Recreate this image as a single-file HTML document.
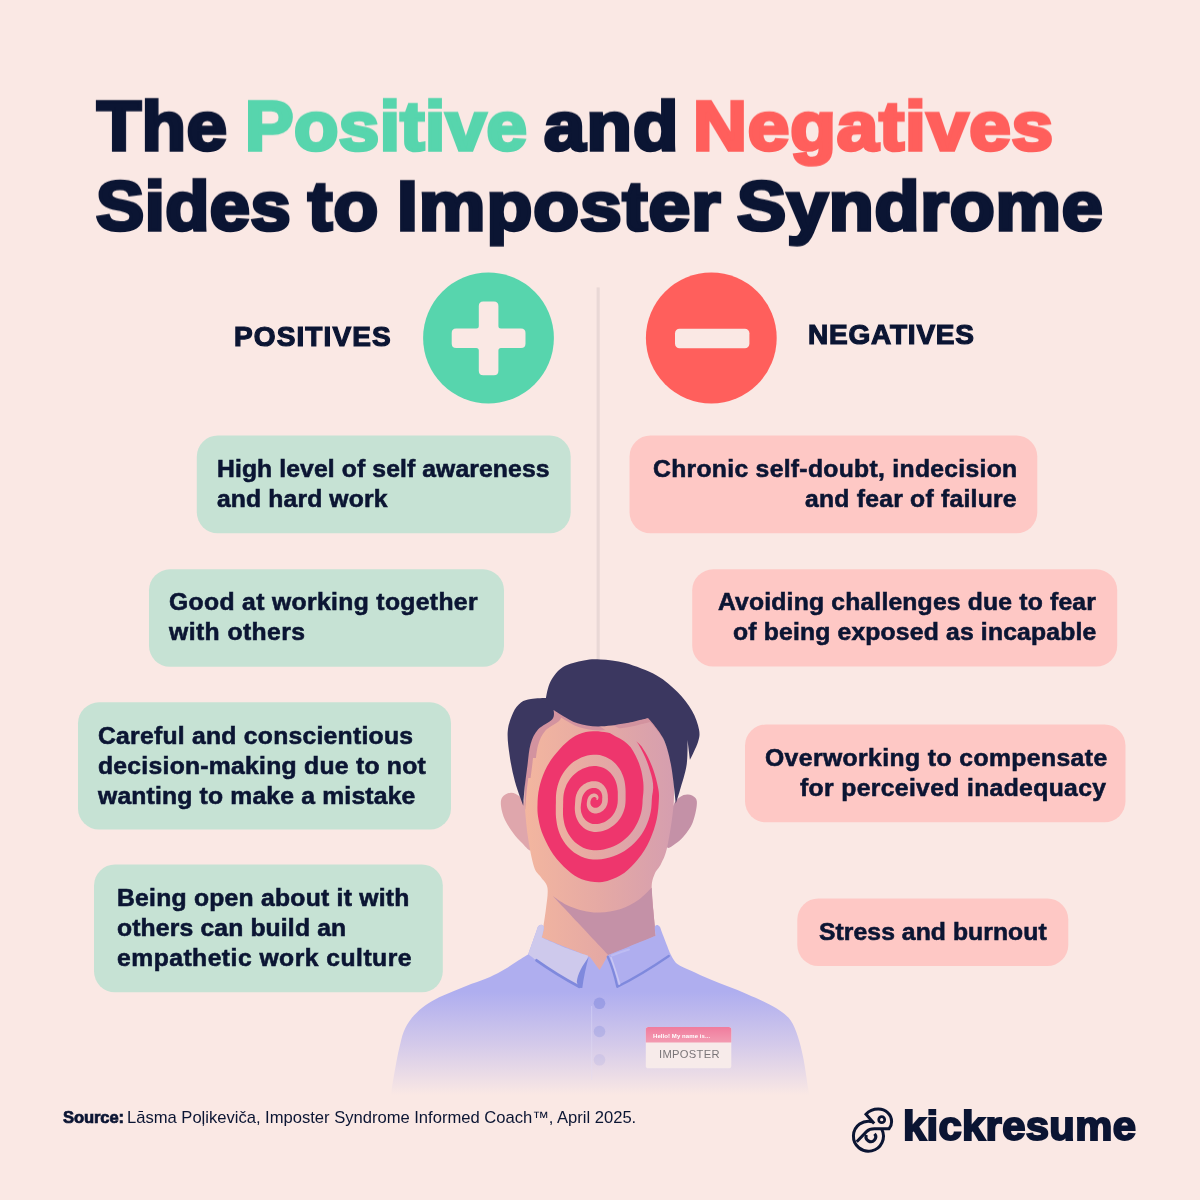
<!DOCTYPE html>
<html><head><meta charset="utf-8">
<style>
*{margin:0;padding:0;box-sizing:border-box}
html,body{width:1200px;height:1200px;overflow:hidden}
body{background:#FAE8E4;font-family:"Liberation Sans",sans-serif;position:relative}
svg{position:absolute;left:0;top:0}
.x{position:absolute;white-space:pre;transform-origin:0 0;will-change:transform;font-family:"Liberation Sans",sans-serif}
</style></head><body>
<svg width="1200" height="1200" viewBox="0 0 1200 1200">
<rect x="596.6" y="287.4" width="3.1" height="380" fill="#E9D8D6"/>
<circle cx="488.5" cy="338" r="65.4" fill="#57D5AD"/>
<path d="M483.3 301.40000000000003H493.90000000000003Q498.40000000000003 301.40000000000003 498.40000000000003 305.90000000000003V326.0Q498.40000000000003 328.5 500.90000000000003 328.5H521.0Q525.5 328.5 525.5 333.0V343.6Q525.5 348.1 521.0 348.1H500.90000000000003Q498.40000000000003 348.1 498.40000000000003 350.6V370.7Q498.40000000000003 375.2 493.90000000000003 375.2H483.3Q478.8 375.2 478.8 370.7V350.6Q478.8 348.1 476.3 348.1H456.20000000000005Q451.70000000000005 348.1 451.70000000000005 343.6V333.0Q451.70000000000005 328.5 456.20000000000005 328.5H476.3Q478.8 328.5 478.8 326.0V305.90000000000003Q478.8 301.40000000000003 483.3 301.40000000000003Z" fill="#FAE8E4"/>
<circle cx="711.3" cy="338" r="65.4" fill="#FF5F5C"/>
<rect x="675" y="328.8" width="74.4" height="19.4" rx="4.5" fill="#FAE8E4"/>
<rect x="196.8" y="435.5" width="373.9" height="97.8" rx="21" fill="#C6E2D4"/><rect x="149" y="569.3" width="355.0" height="97.5" rx="21" fill="#C6E2D4"/><rect x="78" y="702.3" width="373.0" height="127.2" rx="21" fill="#C6E2D4"/><rect x="94" y="864.5" width="348.8" height="127.8" rx="21" fill="#C6E2D4"/><rect x="629.5" y="435.5" width="407.8" height="97.8" rx="21" fill="#FEC8C5"/><rect x="692.2" y="569.3" width="425.0" height="97.3" rx="21" fill="#FEC8C5"/><rect x="745" y="724.5" width="380.5" height="97.8" rx="21" fill="#FEC8C5"/><rect x="797.3" y="898.5" width="271.0" height="67.5" rx="21" fill="#FEC8C5"/>
<defs><linearGradient id="fg" gradientUnits="userSpaceOnUse" x1="525" y1="0" x2="675" y2="0"><stop offset="0" stop-color="#F3B69F"/><stop offset=".5" stop-color="#E5A9A4"/><stop offset="1" stop-color="#D59EAF"/></linearGradient><linearGradient id="sg" gradientUnits="userSpaceOnUse" x1="0" y1="992" x2="0" y2="1095"><stop offset="0" stop-color="#AFAEEF"/><stop offset=".5" stop-color="#D3C9EA"/><stop offset="1" stop-color="#FAE8E4"/></linearGradient><linearGradient id="pl" gradientUnits="userSpaceOnUse" x1="0" y1="1006" x2="0" y2="1080"><stop offset="0" stop-color="#C6C4F2"/><stop offset="1" stop-color="#EADDEA"/></linearGradient><linearGradient id="bg1" gradientUnits="userSpaceOnUse" x1="0" y1="1027" x2="0" y2="1043"><stop offset="0" stop-color="#F07C9D"/><stop offset="1" stop-color="#F39CB2"/></linearGradient><clipPath id="sc1"><rect x="500" y="650" width="200" height="128"/></clipPath><clipPath id="sc2"><rect x="500" y="650" width="200" height="108"/></clipPath><clipPath id="fc"><path d="M600.0 700.0C583.0 698.0 557.5 698.2 546.0 704.0C534.5 709.8 534.3 725.7 531.0 735.0C527.7 744.3 527.1 750.8 526.0 760.0C524.9 769.2 524.8 782.3 524.6 790.0C524.4 797.7 524.2 798.1 524.8 806.0C525.4 813.9 526.5 827.4 528.0 837.5C529.5 847.6 531.9 860.1 534.0 866.7C536.1 873.3 538.5 873.5 540.8 877.0C543.0 880.5 546.7 882.5 547.5 888.0C548.3 893.5 546.8 901.8 545.8 910.0C544.8 918.2 541.7 937.5 541.7 937.5C541.7 937.5 560.0 965.0 560.0 965.0C560.0 965.0 600.0 975.0 600.0 975.0C600.0 975.0 640.0 965.0 640.0 965.0C640.0 965.0 655.8 935.8 655.8 935.8C655.8 935.8 654.0 918.3 653.3 910.0C652.6 901.7 651.4 892.1 651.7 886.0C652.0 879.9 653.5 877.0 655.0 873.3C656.5 869.6 658.9 868.6 661.0 864.0C663.1 859.4 665.4 856.1 667.5 845.8C669.6 835.5 673.0 815.5 673.8 802.0C674.5 788.5 673.8 775.7 672.0 765.0C670.2 754.3 667.0 746.2 663.0 738.0C659.0 729.8 658.5 722.3 648.0 716.0C637.5 709.7 617.0 702.0 600.0 700.0Z"/></clipPath></defs>
<path d="M526.0 806.0C523.8 800.3 521.5 798.2 519.0 796.0C516.5 793.8 513.8 792.5 511.0 792.7C508.2 792.9 504.2 794.8 502.5 797.0C500.8 799.2 500.6 802.2 501.0 806.0C501.4 809.8 502.9 815.5 505.0 820.0C507.1 824.5 510.5 829.5 513.3 833.3C516.1 837.1 519.0 840.2 522.0 843.0C525.0 845.8 529.3 852.2 531.0 850.0C532.7 847.8 532.8 837.3 532.0 830.0C531.2 822.7 528.2 811.7 526.0 806.0Z" fill="#DFA6AC"/>
<path d="M673.0 806.0C675.0 801.2 677.5 798.9 680.0 797.0C682.5 795.1 685.4 794.3 688.0 794.5C690.6 794.7 694.0 796.1 695.5 798.0C697.0 799.9 697.2 801.8 696.7 806.0C696.2 810.2 694.6 818.0 692.5 823.0C690.4 828.0 686.9 832.5 684.0 836.0C681.1 839.5 677.8 842.2 675.0 844.0C672.2 845.8 668.2 850.0 667.0 847.0C665.8 844.0 667.0 832.8 668.0 826.0C669.0 819.2 671.0 810.8 673.0 806.0Z" fill="#C491A7"/>
<path d="M600.0 700.0C583.0 698.0 557.5 698.2 546.0 704.0C534.5 709.8 534.3 725.7 531.0 735.0C527.7 744.3 527.1 750.8 526.0 760.0C524.9 769.2 524.8 782.3 524.6 790.0C524.4 797.7 524.2 798.1 524.8 806.0C525.4 813.9 526.5 827.4 528.0 837.5C529.5 847.6 531.9 860.1 534.0 866.7C536.1 873.3 538.5 873.5 540.8 877.0C543.0 880.5 546.7 882.5 547.5 888.0C548.3 893.5 546.8 901.8 545.8 910.0C544.8 918.2 541.7 937.5 541.7 937.5C541.7 937.5 560.0 965.0 560.0 965.0C560.0 965.0 600.0 975.0 600.0 975.0C600.0 975.0 640.0 965.0 640.0 965.0C640.0 965.0 655.8 935.8 655.8 935.8C655.8 935.8 654.0 918.3 653.3 910.0C652.6 901.7 651.4 892.1 651.7 886.0C652.0 879.9 653.5 877.0 655.0 873.3C656.5 869.6 658.9 868.6 661.0 864.0C663.1 859.4 665.4 856.1 667.5 845.8C669.6 835.5 673.0 815.5 673.8 802.0C674.5 788.5 673.8 775.7 672.0 765.0C670.2 754.3 667.0 746.2 663.0 738.0C659.0 729.8 658.5 722.3 648.0 716.0C637.5 709.7 617.0 702.0 600.0 700.0Z" fill="url(#fg)"/>
<path d="M553.0 896.3C553.0 896.3 561.7 902.6 566.7 905.0C571.8 907.4 577.8 909.5 583.3 910.8C588.8 912.0 593.9 912.8 600.0 912.5C606.1 912.2 613.6 911.3 620.0 909.2C626.4 907.1 633.0 903.6 638.3 900.0C643.6 896.4 651.7 887.5 651.7 887.5C651.7 887.5 652.6 902.0 653.3 910.0C654.0 918.0 655.8 935.8 655.8 935.8C655.8 935.8 630.0 946.7 630.0 946.7C630.0 946.7 608.3 955.0 608.3 955.0C608.3 955.0 553.0 896.3 553.0 896.3Z" fill="#C491A7"/>
<g clip-path="url(#fc)"><path d="M523.3 805.6C523.3 805.6 517.2 789.9 515.0 781.7C512.8 773.6 511.0 765.0 509.8 756.7C508.6 748.4 507.2 739.0 507.7 731.7C508.2 724.4 510.8 717.9 513.0 713.0C515.2 708.1 518.0 704.8 521.0 702.5C524.0 700.2 526.8 699.8 531.0 699.0C535.2 698.2 546.0 698.0 546.0 698.0C546.0 698.0 547.6 686.9 550.4 681.7C553.2 676.5 557.4 670.5 563.0 667.0C568.6 663.5 577.5 661.7 583.8 660.4C590.0 659.1 593.5 659.0 600.4 659.4C607.3 659.8 616.0 660.3 625.4 663.0C634.8 665.7 648.0 670.6 656.7 675.4C665.4 680.2 671.6 686.1 677.5 692.0C683.4 697.9 688.4 704.5 692.0 710.8C695.6 717.1 698.0 724.4 699.0 729.6C700.0 734.8 699.5 737.0 698.0 742.0C696.5 747.0 690.0 759.8 690.0 759.8C690.0 759.8 687.5 740.0 687.5 740.0C687.5 740.0 687.9 756.7 686.6 765.0C685.4 773.3 681.8 783.6 680.0 790.0C678.2 796.4 675.8 803.5 675.8 803.5C675.8 803.5 673.1 775.9 671.0 765.0C668.9 754.1 666.8 745.8 663.0 738.0C659.2 730.2 648.0 718.0 648.0 718.0C648.0 718.0 633.7 721.9 625.4 723.3C617.1 724.7 606.3 726.5 598.3 726.5C590.3 726.5 583.4 725.0 577.5 723.3C571.6 721.5 567.0 718.2 563.0 716.0C559.0 713.8 553.5 709.8 553.5 709.8C553.5 709.8 555.1 715.7 552.5 719.0C549.9 722.3 541.6 725.4 538.0 729.6C534.4 733.8 532.4 738.1 530.6 744.0C528.9 749.9 528.5 757.3 527.5 765.0C526.5 772.7 525.1 783.2 524.4 790.0C523.7 796.8 523.3 805.6 523.3 805.6Z" fill="#D3939F" transform="translate(2,4)"/><g clip-path="url(#sc1)"><path d="M523.3 805.6C523.3 805.6 517.2 789.9 515.0 781.7C512.8 773.6 511.0 765.0 509.8 756.7C508.6 748.4 507.2 739.0 507.7 731.7C508.2 724.4 510.8 717.9 513.0 713.0C515.2 708.1 518.0 704.8 521.0 702.5C524.0 700.2 526.8 699.8 531.0 699.0C535.2 698.2 546.0 698.0 546.0 698.0C546.0 698.0 547.6 686.9 550.4 681.7C553.2 676.5 557.4 670.5 563.0 667.0C568.6 663.5 577.5 661.7 583.8 660.4C590.0 659.1 593.5 659.0 600.4 659.4C607.3 659.8 616.0 660.3 625.4 663.0C634.8 665.7 648.0 670.6 656.7 675.4C665.4 680.2 671.6 686.1 677.5 692.0C683.4 697.9 688.4 704.5 692.0 710.8C695.6 717.1 698.0 724.4 699.0 729.6C700.0 734.8 699.5 737.0 698.0 742.0C696.5 747.0 690.0 759.8 690.0 759.8C690.0 759.8 687.5 740.0 687.5 740.0C687.5 740.0 687.9 756.7 686.6 765.0C685.4 773.3 681.8 783.6 680.0 790.0C678.2 796.4 675.8 803.5 675.8 803.5C675.8 803.5 673.1 775.9 671.0 765.0C668.9 754.1 666.8 745.8 663.0 738.0C659.2 730.2 648.0 718.0 648.0 718.0C648.0 718.0 633.7 721.9 625.4 723.3C617.1 724.7 606.3 726.5 598.3 726.5C590.3 726.5 583.4 725.0 577.5 723.3C571.6 721.5 567.0 718.2 563.0 716.0C559.0 713.8 553.5 709.8 553.5 709.8C553.5 709.8 555.1 715.7 552.5 719.0C549.9 722.3 541.6 725.4 538.0 729.6C534.4 733.8 532.4 738.1 530.6 744.0C528.9 749.9 528.5 757.3 527.5 765.0C526.5 772.7 525.1 783.2 524.4 790.0C523.7 796.8 523.3 805.6 523.3 805.6Z" fill="#D3939F" transform="translate(4.5,2)"/></g><g clip-path="url(#sc2)"><path d="M523.3 805.6C523.3 805.6 517.2 789.9 515.0 781.7C512.8 773.6 511.0 765.0 509.8 756.7C508.6 748.4 507.2 739.0 507.7 731.7C508.2 724.4 510.8 717.9 513.0 713.0C515.2 708.1 518.0 704.8 521.0 702.5C524.0 700.2 526.8 699.8 531.0 699.0C535.2 698.2 546.0 698.0 546.0 698.0C546.0 698.0 547.6 686.9 550.4 681.7C553.2 676.5 557.4 670.5 563.0 667.0C568.6 663.5 577.5 661.7 583.8 660.4C590.0 659.1 593.5 659.0 600.4 659.4C607.3 659.8 616.0 660.3 625.4 663.0C634.8 665.7 648.0 670.6 656.7 675.4C665.4 680.2 671.6 686.1 677.5 692.0C683.4 697.9 688.4 704.5 692.0 710.8C695.6 717.1 698.0 724.4 699.0 729.6C700.0 734.8 699.5 737.0 698.0 742.0C696.5 747.0 690.0 759.8 690.0 759.8C690.0 759.8 687.5 740.0 687.5 740.0C687.5 740.0 687.9 756.7 686.6 765.0C685.4 773.3 681.8 783.6 680.0 790.0C678.2 796.4 675.8 803.5 675.8 803.5C675.8 803.5 673.1 775.9 671.0 765.0C668.9 754.1 666.8 745.8 663.0 738.0C659.2 730.2 648.0 718.0 648.0 718.0C648.0 718.0 633.7 721.9 625.4 723.3C617.1 724.7 606.3 726.5 598.3 726.5C590.3 726.5 583.4 725.0 577.5 723.3C571.6 721.5 567.0 718.2 563.0 716.0C559.0 713.8 553.5 709.8 553.5 709.8C553.5 709.8 555.1 715.7 552.5 719.0C549.9 722.3 541.6 725.4 538.0 729.6C534.4 733.8 532.4 738.1 530.6 744.0C528.9 749.9 528.5 757.3 527.5 765.0C526.5 772.7 525.1 783.2 524.4 790.0C523.7 796.8 523.3 805.6 523.3 805.6Z" fill="#D3939F" transform="translate(7.5,1)"/></g></g>
<path d="M593.0 731.3C597.7 731.0 602.4 731.7 607.2 732.5C611.9 733.2 616.4 734.3 621.3 735.9C626.3 737.4 632.9 739.2 636.9 742.0C640.9 744.7 642.7 748.0 645.4 752.6C648.1 757.2 651.1 763.7 653.2 769.6C655.3 775.5 657.2 783.0 658.1 788.0C659.1 792.9 659.1 794.1 658.9 799.3C658.6 804.5 658.3 812.3 656.7 819.2C655.2 826.0 652.7 833.8 649.6 840.4C646.6 847.0 642.6 853.4 638.3 858.8C634.1 864.2 628.9 869.4 624.2 873.0C619.4 876.5 614.2 878.5 610.0 880.1C605.7 881.6 603.4 882.3 598.7 882.2C593.9 882.1 586.9 881.4 581.7 879.3C576.5 877.3 572.2 874.3 567.5 870.1C562.8 866.0 557.3 860.2 553.3 854.6C549.3 848.9 545.9 842.0 543.4 836.1C540.9 830.2 539.4 824.3 538.5 819.2C537.5 814.0 537.3 810.2 537.5 805.0C537.6 799.8 537.9 793.7 539.2 788.0C540.4 782.3 542.5 776.2 544.8 771.0C547.2 765.8 549.8 761.5 553.3 756.8C556.9 752.1 561.8 746.4 566.1 742.7C570.3 738.9 574.3 736.1 578.8 734.2C583.3 732.3 588.3 731.6 593.0 731.3Z" fill="#EE366D"/>
<path d="M597.9 720.8L603.3 722.1L608.6 723.7L613.7 725.6L618.6 727.9L623.2 730.4L627.7 733.1L631.9 736.2L635.5 740.1L638.6 744.4L641.1 748.9L643.4 753.4L645.4 757.8L647.2 762.2L648.7 766.6L650.0 770.8L651.3 775.0L652.3 779.2L653.0 783.4L653.2 787.7L652.8 791.9L652.1 796.0L651.8 800.0L651.6 804.0L651.3 807.9L650.7 811.8L649.8 815.7L648.7 819.5L647.3 823.3L645.7 826.9L643.9 830.5L641.8 833.9L639.4 837.2L636.9 840.3L634.1 843.3L631.1 846.0L627.9 848.6L624.5 850.9L620.9 853.0L617.2 854.8L613.4 856.3L609.5 857.6L605.4 858.5L601.3 859.2L597.2 859.5L593.0 859.5L588.9 858.9L584.9 857.9L581.0 856.5L577.4 854.6L574.0 852.4L570.8 849.8L568.0 847.0L565.5 844.0L563.3 840.8L561.4 837.5L559.8 834.1L558.6 830.7L557.6 827.3L556.9 823.9L556.4 820.6L556.0 817.4L555.8 814.3L555.8 811.3L555.8 808.4L555.8 805.6L555.9 802.8L555.9 800.0L555.9 797.3L556.1 794.5L556.4 791.8L556.9 789.1L557.5 786.3L558.3 783.6L559.2 781.0L560.3 778.3L561.6 775.7L563.1 773.2L564.8 770.7L566.6 768.4L568.6 766.2L570.9 764.1L573.2 762.1L575.8 760.4L578.5 758.9L581.3 757.5L584.2 756.4L587.3 755.6L590.4 755.0L593.5 754.7L596.7 754.8L599.8 755.1L602.9 755.9L605.8 757.0L608.6 758.4L611.3 760.1L613.7 762.0L615.8 764.1L617.8 766.4L619.5 768.8L621.0 771.3L622.2 773.9L623.2 776.5L624.0 779.1L624.6 781.6L625.0 784.1L625.3 786.6L625.5 789.0L625.6 791.3L625.6 793.5L625.6 795.7L625.6 797.9L625.6 800.0L625.5 802.2L625.3 804.3L625.0 806.4L624.5 808.5L623.9 810.5L623.2 812.5L622.3 814.5L621.3 816.4L620.2 818.2L618.9 820.0L617.5 821.7L616.0 823.2L614.4 824.7L612.7 826.1L610.9 827.3L609.0 828.4L607.0 829.4L604.9 830.2L602.8 830.9L600.6 831.4L598.4 831.7L596.2 831.9L594.0 831.9L591.8 831.6L589.6 831.0L587.6 830.2L585.6 829.2L583.8 828.0L582.2 826.6L580.7 825.0L579.4 823.4L578.2 821.6L577.3 819.8L576.5 818.0L575.9 816.2L575.4 814.3L575.1 812.5L574.9 810.8L574.8 809.1L574.8 807.4L574.9 805.8L575.0 804.3L575.1 802.8L575.2 801.4L575.3 800.0L575.4 798.7L575.6 797.3L575.9 795.9L576.3 794.6L576.8 793.4L577.3 792.1L577.9 790.9L578.7 789.7L579.4 788.6L580.3 787.6L581.2 786.6L582.2 785.7L583.2 784.8L584.4 784.1L585.5 783.4L586.7 782.8L587.9 782.3L589.2 781.9L590.5 781.5L591.8 781.3L593.1 781.2L594.5 781.2L595.8 781.2L597.1 781.5L598.3 781.8L599.5 782.3L600.7 782.9L601.7 783.6L602.7 784.4L603.6 785.3L604.4 786.2L605.1 787.2L605.7 788.2L606.3 789.3L606.7 790.3L607.0 791.4L607.3 792.4L607.5 793.4L607.7 794.4L607.8 795.4L607.8 796.4L607.8 797.3L607.9 798.2L607.9 799.1L607.9 800.0L607.8 800.9L607.8 801.8L607.6 802.7L607.4 803.6L607.2 804.4L606.9 805.3L606.5 806.1L606.1 806.9L605.6 807.7L605.1 808.4L604.5 809.1L603.9 809.8L603.2 810.4L602.5 811.0L601.7 811.5L600.9 812.0L600.1 812.4L599.2 812.8L598.4 813.0L597.4 813.3L596.5 813.4L595.6 813.5L594.6 813.5L593.7 813.3L592.8 813.1L591.9 812.8L591.1 812.3L590.4 811.8L589.7 811.2L589.0 810.6L588.5 809.8L588.0 809.1L587.6 808.3L587.3 807.5L587.1 806.8L586.9 806.0L586.8 805.2L586.8 804.5L586.8 803.7L586.8 803.0L586.9 802.4L587.0 801.8L587.1 801.2L587.2 800.6L587.3 800.0L587.4 799.5L587.6 799.0L587.8 798.5L587.9 798.0L588.2 797.5L588.4 797.0L588.7 796.6L589.0 796.2L589.3 795.8L589.7 795.4L590.0 795.1L590.4 794.8L590.8 794.5L591.2 794.3L591.7 794.1L592.1 793.9L592.6 793.7L593.0 793.6L593.5 793.6L594.0 793.5L594.4 793.6L594.9 793.6L595.3 793.7L595.8 793.8L596.2 794.0L596.6 794.2L596.9 794.5L597.2 794.8L597.5 795.1L597.8 795.4L598.0 795.7L598.2 796.1L598.3 796.5L598.4 796.8L598.5 797.2L598.5 797.6L598.5 797.9L598.4 798.3L598.3 798.6L598.2 798.9L598.0 799.2L597.8 799.5L597.6 799.7L597.4 799.9L597.1 800.0L596.2 800.0L596.3 799.9L596.4 799.8L596.5 799.7L596.5 799.6L596.6 799.5L596.6 799.4L596.6 799.2L596.6 799.1L596.6 798.9L596.6 798.8L596.6 798.6L596.5 798.5L596.4 798.3L596.4 798.2L596.3 798.0L596.2 797.9L596.0 797.8L595.9 797.6L595.7 797.5L595.6 797.4L595.4 797.3L595.2 797.2L595.0 797.2L594.8 797.1L594.6 797.1L594.4 797.1L594.2 797.1L593.9 797.1L593.7 797.1L593.5 797.2L593.2 797.3L593.0 797.4L592.8 797.5L592.6 797.6L592.4 797.7L592.2 797.9L592.0 798.1L591.8 798.3L591.6 798.5L591.5 798.7L591.3 798.9L591.2 799.2L591.1 799.5L591.0 799.7L590.9 800.0L590.8 800.3L590.7 800.7L590.6 801.0L590.5 801.3L590.4 801.7L590.4 802.1L590.4 802.5L590.4 803.0L590.4 803.4L590.5 803.9L590.6 804.3L590.8 804.8L591.0 805.3L591.3 805.7L591.6 806.1L592.0 806.5L592.4 806.8L592.8 807.1L593.3 807.4L593.8 807.6L594.3 807.7L594.8 807.8L595.4 807.8L595.9 807.8L596.5 807.7L597.0 807.5L597.5 807.4L598.0 807.2L598.5 806.9L598.9 806.6L599.3 806.3L599.7 806.0L600.1 805.6L600.5 805.2L600.8 804.8L601.0 804.3L601.3 803.9L601.5 803.4L601.7 803.0L601.9 802.5L602.0 802.0L602.1 801.5L602.1 801.0L602.2 800.5L602.2 800.0L602.2 799.5L602.2 799.0L602.2 798.5L602.3 798.0L602.3 797.4L602.3 796.8L602.2 796.2L602.2 795.6L602.1 795.0L601.9 794.3L601.7 793.6L601.5 793.0L601.2 792.3L600.8 791.6L600.3 791.0L599.8 790.4L599.2 789.8L598.6 789.3L597.9 788.9L597.1 788.5L596.4 788.2L595.5 788.1L594.7 787.9L593.8 787.9L593.0 788.0L592.1 788.1L591.3 788.2L590.5 788.5L589.6 788.8L588.8 789.2L588.1 789.6L587.3 790.1L586.6 790.6L586.0 791.2L585.3 791.8L584.8 792.5L584.2 793.2L583.7 794.0L583.3 794.8L582.9 795.6L582.5 796.4L582.2 797.3L582.0 798.2L581.8 799.1L581.7 800.0L581.5 801.0L581.4 802.0L581.2 803.0L581.0 804.1L580.9 805.2L580.8 806.4L580.7 807.7L580.8 809.0L580.9 810.3L581.1 811.7L581.5 813.2L582.0 814.6L582.6 816.0L583.4 817.4L584.4 818.7L585.4 819.9L586.6 821.0L588.0 822.0L589.4 822.8L591.0 823.4L592.6 823.9L594.3 824.1L596.0 824.1L597.6 824.0L599.3 823.7L600.9 823.3L602.5 822.8L604.1 822.2L605.5 821.4L607.0 820.6L608.3 819.6L609.6 818.6L610.8 817.4L611.9 816.2L612.9 815.0L613.9 813.6L614.7 812.3L615.4 810.8L616.0 809.3L616.6 807.8L617.0 806.3L617.3 804.8L617.6 803.2L617.7 801.6L617.8 800.0L617.8 798.4L617.8 796.8L617.8 795.2L617.8 793.5L617.8 791.8L617.6 790.0L617.4 788.2L617.1 786.3L616.7 784.4L616.1 782.4L615.4 780.5L614.4 778.6L613.4 776.7L612.1 774.9L610.6 773.1L609.0 771.5L607.2 770.1L605.3 768.8L603.2 767.8L600.9 766.9L598.7 766.4L596.3 766.1L593.9 766.1L591.6 766.2L589.2 766.6L586.9 767.2L584.7 767.9L582.5 768.8L580.4 769.9L578.4 771.1L576.5 772.4L574.7 773.9L573.0 775.5L571.4 777.2L570.0 779.0L568.7 780.9L567.6 782.8L566.5 784.8L565.7 786.9L564.9 789.0L564.3 791.2L563.8 793.4L563.5 795.6L563.3 797.8L563.2 800.0L563.2 802.3L563.1 804.5L563.1 806.8L563.0 809.2L563.0 811.7L563.0 814.3L563.2 817.0L563.6 819.7L564.1 822.6L564.8 825.4L565.8 828.3L567.0 831.2L568.5 834.1L570.3 836.8L572.4 839.4L574.7 841.9L577.3 844.1L580.2 846.0L583.2 847.7L586.5 848.9L589.9 849.8L593.4 850.3L596.9 850.3L600.4 850.0L603.8 849.5L607.2 848.6L610.6 847.6L613.8 846.3L616.9 844.7L619.9 842.9L622.7 841.0L625.4 838.8L627.9 836.4L630.2 833.9L632.4 831.3L634.3 828.5L636.0 825.6L637.6 822.6L638.9 819.5L640.0 816.4L641.0 813.2L641.7 809.9L642.2 806.6L642.5 803.3L642.6 800.0L642.9 796.7L643.3 793.3L643.5 789.7L643.5 786.2L643.3 782.5L642.8 778.8L642.2 775.0L641.4 771.1L640.3 767.2L639.0 763.2L637.3 759.2L635.4 755.3L633.2 751.2L630.7 747.3L627.5 743.9L623.9 741.0L619.9 738.6L615.8 736.4L611.5 734.1L607.2 731.4L602.7 728.2L597.7 725.0Z" fill="url(#fg)"/>
<path d="M523.3 805.6C523.3 805.6 517.2 789.9 515.0 781.7C512.8 773.6 511.0 765.0 509.8 756.7C508.6 748.4 507.2 739.0 507.7 731.7C508.2 724.4 510.8 717.9 513.0 713.0C515.2 708.1 518.0 704.8 521.0 702.5C524.0 700.2 526.8 699.8 531.0 699.0C535.2 698.2 546.0 698.0 546.0 698.0C546.0 698.0 547.6 686.9 550.4 681.7C553.2 676.5 557.4 670.5 563.0 667.0C568.6 663.5 577.5 661.7 583.8 660.4C590.0 659.1 593.5 659.0 600.4 659.4C607.3 659.8 616.0 660.3 625.4 663.0C634.8 665.7 648.0 670.6 656.7 675.4C665.4 680.2 671.6 686.1 677.5 692.0C683.4 697.9 688.4 704.5 692.0 710.8C695.6 717.1 698.0 724.4 699.0 729.6C700.0 734.8 699.5 737.0 698.0 742.0C696.5 747.0 690.0 759.8 690.0 759.8C690.0 759.8 687.5 740.0 687.5 740.0C687.5 740.0 687.9 756.7 686.6 765.0C685.4 773.3 681.8 783.6 680.0 790.0C678.2 796.4 675.8 803.5 675.8 803.5C675.8 803.5 673.1 775.9 671.0 765.0C668.9 754.1 666.8 745.8 663.0 738.0C659.2 730.2 648.0 718.0 648.0 718.0C648.0 718.0 633.7 721.9 625.4 723.3C617.1 724.7 606.3 726.5 598.3 726.5C590.3 726.5 583.4 725.0 577.5 723.3C571.6 721.5 567.0 718.2 563.0 716.0C559.0 713.8 553.5 709.8 553.5 709.8C553.5 709.8 555.1 715.7 552.5 719.0C549.9 722.3 541.6 725.4 538.0 729.6C534.4 733.8 532.4 738.1 530.6 744.0C528.9 749.9 528.5 757.3 527.5 765.0C526.5 772.7 525.1 783.2 524.4 790.0C523.7 796.8 523.3 805.6 523.3 805.6Z" fill="#3B3760"/>
<path d="M536.3 931.5C534.6 936.1 528.3 954.2 528.3 954.2C528.3 954.2 521.4 958.5 517.5 961.0C513.6 963.5 509.3 966.6 504.7 969.2C500.1 971.9 495.5 974.5 490.0 976.9C484.5 979.3 477.8 981.4 471.7 983.8C465.6 986.2 459.4 988.6 453.3 991.2C447.2 993.8 440.2 996.6 435.0 999.4C429.8 1002.1 426.2 1004.5 422.2 1007.7C418.2 1010.9 414.3 1014.7 411.2 1018.7C408.1 1022.7 405.8 1026.6 403.8 1031.5C401.8 1036.4 400.7 1042.2 399.3 1048.0C397.9 1053.8 396.8 1059.6 395.6 1066.3C394.4 1073.0 392.7 1082.7 391.9 1088.3C391.1 1093.9 391.0 1100.0 391.0 1100.0C391.0 1100.0 810.0 1100.0 810.0 1100.0C810.0 1100.0 809.2 1095.1 808.1 1088.3C807.0 1081.5 805.2 1067.5 803.5 1059.0C801.8 1050.5 800.1 1043.4 798.0 1037.0C795.9 1030.6 793.8 1024.9 790.7 1020.5C787.7 1016.1 784.0 1013.4 779.7 1010.4C775.4 1007.4 770.5 1005.0 765.0 1002.2C759.5 999.5 752.8 996.5 746.7 993.9C740.6 991.3 734.4 989.0 728.3 986.6C722.2 984.2 716.1 981.9 710.0 979.3C703.9 976.7 697.2 973.6 691.7 971.0C686.2 968.4 680.6 966.7 677.0 963.7C673.4 960.7 670.0 953.0 670.0 953.0C670.0 953.0 663.7 936.9 662.0 932.5C660.3 928.1 660.7 928.0 659.8 926.8C658.9 925.5 657.6 924.9 656.8 925.0C656.0 925.1 655.0 925.7 654.8 927.5C654.6 929.3 655.8 935.8 655.8 935.8C655.8 935.8 608.3 955.0 608.3 955.0C608.3 955.0 599.7 970.0 599.7 970.0C599.7 970.0 590.0 957.0 590.0 957.0C590.0 957.0 541.7 937.5 541.7 937.5C541.7 937.5 543.9 929.6 543.8 927.5C543.7 925.4 542.2 924.9 541.3 924.8C540.4 924.6 539.0 925.5 538.2 926.6C537.4 927.7 537.9 926.9 536.3 931.5Z" fill="url(#sg)"/>
<path d="M536.3 931.5C537.9 926.9 537.4 927.7 538.2 926.6C539.0 925.5 540.4 924.6 541.3 924.8C542.2 924.9 543.7 925.4 543.8 927.5C543.9 929.6 541.7 937.5 541.7 937.5C541.7 937.5 558.9 945.2 566.7 948.3C574.5 951.3 588.3 955.8 588.3 955.8C588.3 955.8 578.3 985.8 578.3 985.8C578.3 985.8 558.3 975.3 550.0 970.0C541.7 964.7 528.3 954.2 528.3 954.2C528.3 954.2 534.6 936.1 536.3 931.5Z" fill="#CEC9EC"/>
<path d="M536.5 960.3C548 968.5 563 978 579.3 986.8" stroke="#7F89DD" stroke-width="2.7" fill="none" stroke-linecap="round"/>
<path d="M588.6 957.2C582 966 577.5 974 576.8 982L578.5 987.8L582.3 988C583.5 978 586 967 588.6 957.2Z" fill="#7F89DD"/>
<path d="M668.8 956C652 967.5 634 978.5 617.3 986.8C615 976 612 966 607.8 956.8" stroke="#7F89DD" stroke-width="2.3" fill="none" stroke-linecap="round" stroke-linejoin="round"/>
<path d="M611 957.5C614 966 617 975 619.5 984" stroke="#C9C7F3" stroke-width="1.6" fill="none" stroke-linecap="round"/>
<path d="M612 955.5C618 953 624 951 629 949.5" stroke="#BDBCF3" stroke-width="2" fill="none" stroke-linecap="round"/>
<rect x="591" y="1006" width="1.2" height="74" fill="url(#pl)"/>
<circle cx="599.5" cy="1003.3" r="5.8" fill="#7F88DC" opacity=".5"/>
<circle cx="599.5" cy="1031.5" r="5.8" fill="#7F88DC" opacity=".28"/>
<circle cx="599.5" cy="1059.8" r="5.8" fill="#7F88DC" opacity=".14"/>
<rect x="645.8" y="1027.1" width="85.5" height="41.2" rx="2.6" fill="#F7EBEA"/>
<path d="M645.8 1042.6V1029.7a2.6 2.6 0 0 1 2.6-2.6h80.3a2.6 2.6 0 0 1 2.6 2.6V1042.6Z" fill="url(#bg1)"/>
<g fill="none" stroke="#0B1533" stroke-width="3" stroke-linejoin="miter" stroke-miterlimit="6" stroke-linecap="butt">
<path d="M874.2 1123.6L866 1114.2C868.6 1111.3 873 1109.1 878.3 1109.1C885.5 1109.1 891.6 1114 891.6 1121.7C891.6 1124.6 890.6 1127 889 1128.8L874.5 1128.8Q869.3 1128.8 866.5 1131.6L856.7 1141.7"/>
<path d="M872.6 1121.8A15 15 0 1 0 881.8 1129.4"/>
<path d="M866.5 1134.9A4.8 4.8 0 1 0 874.6 1133.8"/>
<circle cx="881.7" cy="1119.7" r="3" stroke-width="2.7"/>
</g>
</svg>
<span class="x" style="left:97.16px;top:84.05px;font-size:70px;line-height:84px;letter-spacing:0.653px;font-weight:700;color:#0B1533;-webkit-text-stroke:3.6px #0B1533;transform:scale(1.0320,0.9850);transform-origin:0 66.25px">The</span>
<span class="x" style="left:244.83px;top:84.05px;font-size:70px;line-height:84px;letter-spacing:0.460px;font-weight:700;color:#57D5AD;-webkit-text-stroke:3.6px #57D5AD;transform:scale(1.0377,0.9850);transform-origin:0 66.25px">Positive</span>
<span class="x" style="left:544.05px;top:84.05px;font-size:70px;line-height:84px;letter-spacing:1.147px;font-weight:700;color:#0B1533;-webkit-text-stroke:3.6px #0B1533;transform:scale(1.0595,0.9850);transform-origin:0 66.25px">and</span>
<span class="x" style="left:692.75px;top:84.05px;font-size:70px;line-height:84px;letter-spacing:0.855px;font-weight:700;color:#FF5F5C;-webkit-text-stroke:3.6px #FF5F5C;transform:scale(1.0669,0.9850);transform-origin:0 66.25px">Negatives</span>
<span class="x" style="left:96.03px;top:163.94px;font-size:70px;line-height:84px;letter-spacing:0.471px;font-weight:700;color:#0B1533;-webkit-text-stroke:3.6px #0B1533;transform:scale(1.0313,0.9850);transform-origin:0 66.25px">Sides</span>
<span class="x" style="left:308.38px;top:163.94px;font-size:70px;line-height:84px;letter-spacing:0.985px;font-weight:700;color:#0B1533;-webkit-text-stroke:3.6px #0B1533;transform:scale(1.0459,0.9850);transform-origin:0 66.25px">to</span>
<span class="x" style="left:396.54px;top:163.94px;font-size:70px;line-height:84px;letter-spacing:0.919px;font-weight:700;color:#0B1533;-webkit-text-stroke:3.6px #0B1533;transform:scale(1.0703,0.9850);transform-origin:0 66.25px">Imposter</span>
<span class="x" style="left:737.44px;top:163.94px;font-size:70px;line-height:84px;letter-spacing:0.799px;font-weight:700;color:#0B1533;-webkit-text-stroke:3.6px #0B1533;transform:scale(1.0514,0.9850);transform-origin:0 66.25px">Syndrome</span>
<span class="x" style="left:234.45px;top:319.80px;font-size:28px;line-height:34px;letter-spacing:1.108px;font-weight:700;color:#0B1533;-webkit-text-stroke:1.2px #0B1533">POSITIVES</span>
<span class="x" style="left:808.25px;top:317.90px;font-size:28px;line-height:34px;letter-spacing:0.782px;font-weight:700;color:#0B1533;-webkit-text-stroke:1.2px #0B1533">NEGATIVES</span>
<span class="x" style="left:217.35px;top:453.80px;font-size:24.7px;line-height:30px;letter-spacing:0.118px;font-weight:700;color:#0B1533;-webkit-text-stroke:0.6px #0B1533">High level of self awareness</span>
<span class="x" style="left:217.35px;top:483.80px;font-size:24.7px;line-height:30px;letter-spacing:0.140px;font-weight:700;color:#0B1533;-webkit-text-stroke:0.6px #0B1533">and hard work</span>
<span class="x" style="left:168.65px;top:586.80px;font-size:24.7px;line-height:30px;letter-spacing:0.356px;font-weight:700;color:#0B1533;-webkit-text-stroke:0.6px #0B1533">Good at working together</span>
<span class="x" style="left:168.65px;top:616.80px;font-size:24.7px;line-height:30px;letter-spacing:0.431px;font-weight:700;color:#0B1533;-webkit-text-stroke:0.6px #0B1533">with others</span>
<span class="x" style="left:97.87px;top:720.80px;font-size:24.7px;line-height:30px;letter-spacing:0.263px;font-weight:700;color:#0B1533;-webkit-text-stroke:0.6px #0B1533">Careful and conscientious</span>
<span class="x" style="left:97.87px;top:750.80px;font-size:24.7px;line-height:30px;letter-spacing:0.274px;font-weight:700;color:#0B1533;-webkit-text-stroke:0.6px #0B1533">decision-making due to not</span>
<span class="x" style="left:97.87px;top:780.80px;font-size:24.7px;line-height:30px;letter-spacing:0.186px;font-weight:700;color:#0B1533;-webkit-text-stroke:0.6px #0B1533">wanting to make a mistake</span>
<span class="x" style="left:116.70px;top:882.80px;font-size:24.7px;line-height:30px;letter-spacing:0.249px;font-weight:700;color:#0B1533;-webkit-text-stroke:0.6px #0B1533">Being open about it with</span>
<span class="x" style="left:116.70px;top:912.80px;font-size:24.7px;line-height:30px;letter-spacing:0.153px;font-weight:700;color:#0B1533;-webkit-text-stroke:0.6px #0B1533">others can build an</span>
<span class="x" style="left:116.70px;top:942.80px;font-size:24.7px;line-height:30px;letter-spacing:0.477px;font-weight:700;color:#0B1533;-webkit-text-stroke:0.6px #0B1533">empathetic work culture</span>
<span class="x" style="left:653.03px;top:453.80px;font-size:24.7px;line-height:30px;letter-spacing:0.309px;font-weight:700;color:#0B1533;-webkit-text-stroke:0.6px #0B1533">Chronic self-doubt, indecision</span>
<span class="x" style="left:805.11px;top:483.80px;font-size:24.7px;line-height:30px;letter-spacing:0.247px;font-weight:700;color:#0B1533;-webkit-text-stroke:0.6px #0B1533">and fear of failure</span>
<span class="x" style="left:718.01px;top:586.80px;font-size:24.7px;line-height:30px;letter-spacing:0.188px;font-weight:700;color:#0B1533;-webkit-text-stroke:0.6px #0B1533">Avoiding challenges due to fear</span>
<span class="x" style="left:732.93px;top:616.80px;font-size:24.7px;line-height:30px;letter-spacing:0.184px;font-weight:700;color:#0B1533;-webkit-text-stroke:0.6px #0B1533">of being exposed as incapable</span>
<span class="x" style="left:764.73px;top:742.80px;font-size:24.7px;line-height:30px;letter-spacing:0.422px;font-weight:700;color:#0B1533;-webkit-text-stroke:0.6px #0B1533">Overworking to compensate</span>
<span class="x" style="left:800.11px;top:772.80px;font-size:24.7px;line-height:30px;letter-spacing:0.359px;font-weight:700;color:#0B1533;-webkit-text-stroke:0.6px #0B1533">for perceived inadequacy</span>
<span class="x" style="left:819.41px;top:916.80px;font-size:24.7px;line-height:30px;letter-spacing:0.075px;font-weight:700;color:#0B1533;-webkit-text-stroke:0.6px #0B1533">Stress and burnout</span>
<span class="x" style="left:63.09px;top:1108.45px;font-size:16.6px;line-height:20px;letter-spacing:-0.111px;font-weight:700;color:#0B1533;-webkit-text-stroke:0.7px #0B1533">Source:</span>
<span class="x" style="left:126.70px;top:1108.45px;font-size:16.6px;line-height:20px;letter-spacing:-0.013px;font-weight:400;color:#0B1533">Lāsma Poļikeviča, Imposter Syndrome Informed Coach™, April 2025.</span>
<span class="x" style="left:903.12px;top:1102.07px;font-size:40.5px;line-height:49px;letter-spacing:0.321px;font-weight:700;color:#0B1533;-webkit-text-stroke:2px #0B1533;transform:scale(1.0314,1.0000);transform-origin:0 38.53px">kickresume</span>
<span class="x" style="left:653.42px;top:1033.02px;font-size:6px;line-height:7px;letter-spacing:0.076px;font-weight:700;color:#FFFFFF">Hello! My name is...</span>
<span class="x" style="left:658.73px;top:1047.72px;font-size:11.2px;line-height:13px;letter-spacing:0.296px;font-weight:400;color:#7A7578">IMPOSTER</span>
</body></html>
